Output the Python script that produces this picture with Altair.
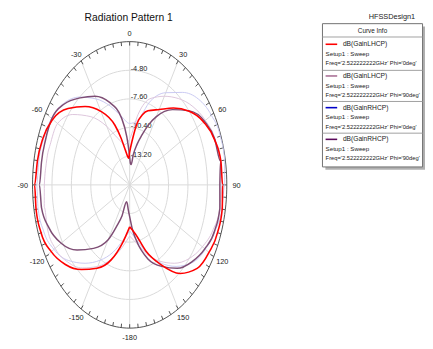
import altair as alt
import pandas as pd

# ---------------- data ----------------
series_names = [
    "dB(GainLHCP) Phi='0deg'",
    "dB(GainLHCP) Phi='90deg'",
    "dB(GainRHCP) Phi='0deg'",
    "dB(GainRHCP) Phi='90deg'",
]

theta_lhcp0 = [-180, -170, -160, -150, -140, -130, -120, -110, -100, -90, -80, -70, -60, -50,
               -40, -30, -20, -15, -10, -5, -3, 0, 5, 10, 15, 20, 30, 40, 50, 60, 70, 80, 90,
               100, 110, 120, 130, 140, 150, 160, 170, 180]
gain_lhcp0 = [-11.9, -10.3, -8.2, -6.6, -5.2, -3.9, -2.95, -2.4, -2.3, -2.3, -2.5, -2.7, -3.2, -4.4,
              -6.0, -7.7, -9.8, -11.3, -12.6, -13.3, -13.4, -12.8, -11.6, -9.9, -8.9, -8.3, -7.5, -6.2,
              -4.8, -3.7, -3.0, -2.65, -2.6, -2.45, -2.5, -2.8, -3.3, -4.7, -7.0, -9.1, -11.1, -11.9]

theta_lhcp90 = [-180, -175, -170, -165, -160, -155, -150, -140, -130, -120, -110, -100, -90, -80,
                -70, -60, -50, -40, -30, -20, -10, -5, -2, 0, 3, 6, 10, 15, 20, 25, 30, 40, 50, 60,
                70, 80, 90, 100, 110, 120, 130, 140, 150, 160, 170, 175, 180]
gain_lhcp90 = [-12.9, -13.6, -14.1, -14.3, -12.8, -11.5, -9.8, -7.9, -6.1, -4.6, -3.65, -3.1, -3.0, -3.1,
               -3.1, -3.05, -3.7, -4.9, -6.0, -7.4, -9.4, -11.3, -12.6, -13.3, -13.9, -14.0, -13.0,
               -11.9, -10.8, -9.5, -8.3, -6.4, -4.75, -3.55, -2.95, -2.7, -3.0, -2.8, -2.95, -3.5,
               -4.3, -5.35, -6.8, -8.3, -10.5, -11.7, -12.9]

theta_rhcp0 = [-180, -170, -160, -150, -140, -130, -120, -110, -100, -90, -80, -70, -60, -50, -40,
               -30, -20, -10, 0, 10, 20, 30, 40, 50, 60, 70, 80, 90, 100, 110, 120, 130, 140, 150,
               160, 170, 180]
gain_rhcp0 = [-11.5, -10.5, -9.0, -7.5, -6.0, -4.5, -3.4, -2.8, -2.6, -2.6, -2.7, -2.8, -3.0, -3.6,
              -4.8, -6.3, -7.8, -9.2, -10.0, -9.6, -7.3, -5.6, -4.2, -3.0, -2.4, -2.1, -2.1, -2.3,
              -2.5, -2.9, -3.4, -4.2, -5.6, -7.2, -9.0, -10.6, -11.5]

theta_rhcp90 = theta_rhcp0
gain_rhcp90 = [-11.0, -9.8, -8.3, -6.8, -5.4, -4.3, -3.6, -3.4, -3.5, -3.7, -3.8, -3.9, -4.0, -5.3,
               -7.3, -9.4, -11.2, -12.0, -11.5, -9.0, -7.0, -6.0, -5.0, -4.1, -3.4, -2.9, -2.7, -2.7,
               -2.8, -3.2, -3.9, -4.8, -6.0, -7.4, -8.8, -10.2, -11.0]

ring_values = [-13.20, -10.40, -7.60, -4.80]
angle_labels = [0, 30, 60, 90, 120, 150, -180, -150, -120, -90, -60, -30]
r_min, r_max = -16.0, -2.0

legend_lines = [
    ("dB(GainLHCP)", "Setup1 : Sweep", "Freq='2.522222222GHz' Phi='0deg'"),
    ("dB(GainLHCP)", "Setup1 : Sweep", "Freq='2.522222222GHz' Phi='90deg'"),
    ("dB(GainRHCP)", "Setup1 : Sweep", "Freq='2.522222222GHz' Phi='0deg'"),
    ("dB(GainRHCP)", "Setup1 : Sweep", "Freq='2.522222222GHz' Phi='90deg'"),
]
# plot colours (the RHCP traces appear very faint in the reference)
line_colors = ["#ff0000", "#7e4d74", "#c9c9f2", "#ddc6dc"]
line_width = [1.6, 1.5, 1.0, 1.0]
legend_colors = ["#ff0000", "#a86f95", "#0000c8", "#5a0a5a"]

# ---------------- geometry ----------------
W, H = 425, 341
CX, CY, RX, RY = 124, 177, 99, 146
FONT = "Liberation Sans, Arial, sans-serif"
xs = alt.Scale(domain=[0, W], nice=False, zero=False)
ys = alt.Scale(domain=[0, H], nice=False, zero=False, reverse=True)
X = alt.X("px:Q", scale=xs, axis=None)
Y = alt.Y("py:Q", scale=ys, axis=None)

span = r_max - r_min


def polar(ch):
    return ch.transform_calculate(
        px=f"{CX} + {RX}*datum.frac*sin(datum.theta*PI/180)",
        py=f"{CY} - {RY}*datum.frac*cos(datum.theta*PI/180)",
    )


# grid rings
ring_rows = []
for rv in ring_values:
    for j, a in enumerate(range(0, 361, 3)):
        ring_rows.append({"ring": rv, "theta": a, "j": j})
rings = polar(
    alt.Chart(pd.DataFrame(ring_rows)).transform_calculate(frac=f"(datum.ring - ({r_min})) / {span}")
).mark_line(color="#d9d9d9", strokeWidth=1).encode(x=X, y=Y, detail="ring:N", order="j:Q")

outer_df = pd.DataFrame({"theta": list(range(0, 361, 2)), "j": list(range(0, 181))})
outer = polar(alt.Chart(outer_df).transform_calculate(frac="1")).mark_line(
    color="#505050", strokeWidth=1).encode(x=X, y=Y, order="j:Q")

spoke_df = pd.DataFrame({"theta": list(range(-150, 181, 30))})
spokes = alt.Chart(spoke_df).transform_calculate(
    px=f"{CX} + {RX}*sin(datum.theta*PI/180)",
    py=f"{CY} - {RY}*cos(datum.theta*PI/180)",
    cx0=f"{CX}", cy0=f"{CY}",
).mark_rule(color="#d9d9d9", strokeWidth=1).encode(
    x=alt.X("cx0:Q", scale=xs, axis=None), y=alt.Y("cy0:Q", scale=ys, axis=None),
    x2="px:Q", y2="py:Q")

tick_df = pd.DataFrame({"theta": list(range(-175, 181, 5))})
ticks = alt.Chart(tick_df).transform_calculate(
    px=f"{CX} + {RX}*sin(datum.theta*PI/180)",
    py=f"{CY} - {RY}*cos(datum.theta*PI/180)",
    qx=f"{CX} + ({RX}-4)*sin(datum.theta*PI/180)",
    qy=f"{CY} - ({RY}-4)*cos(datum.theta*PI/180)",
).mark_rule(color="#505050", strokeWidth=1).encode(x=X, y=Y, x2="qx:Q", y2="qy:Q")

alab_df = pd.DataFrame({"theta": angle_labels, "label": [str(a) for a in angle_labels]})
alabels = alt.Chart(alab_df).transform_calculate(
    px=f"{CX} + ({RX}+10)*sin(datum.theta*PI/180)",
    py=f"{CY} + 1.5 - ({RY}+9)*cos(datum.theta*PI/180)",
).mark_text(font=FONT, fontSize=7.5, color="#222222", align="center", baseline="middle").encode(
    x=X, y=Y, text="label:N")

rlab_df = pd.DataFrame({"ring": ring_values, "label": [f"{v:.2f}" for v in ring_values]})
rlabels = alt.Chart(rlab_df).transform_calculate(
    px=f"{CX} + 1",
    py=f"{CY} - {RY}*(datum.ring - ({r_min}))/{span} - 1.5",
).mark_text(font=FONT, fontSize=7.5, color="#222222", align="left", baseline="middle").encode(
    x=X, y=Y, text="label:N")

curve_layers = []
data_sets = [(theta_lhcp0, gain_lhcp0), (theta_lhcp90, gain_lhcp90),
             (theta_rhcp0, gain_rhcp0), (theta_rhcp90, gain_rhcp90)]
for k in [2, 3, 1, 0]:
    th, g = data_sets[k]
    df = pd.DataFrame({"theta": th, "db": g, "i": list(range(len(th)))})
    curve_layers.append(
        polar(alt.Chart(df).transform_calculate(frac=f"max(0, (datum.db - ({r_min})) / {span})"))
        .mark_line(color=line_colors[k], strokeWidth=line_width[k], interpolate="monotone")
        .encode(x=X, y=Y, order="i:Q")
    )

one = alt.Data(values=[{"a": 1}])


def txt(x, y, s, size=6.3, align="left", color="#222222"):
    return alt.Chart(one).mark_text(font=FONT, fontSize=size, align=align, baseline="middle",
                                    color=color).encode(
        x=alt.value(x), y=alt.value(y), text=alt.value(s))


def rule(x1, x2, y, color, width=1):
    return alt.Chart(one).mark_rule(color=color, strokeWidth=width).encode(
        x=alt.value(x1), x2=alt.value(x2), y=alt.value(y))


title = txt(123, 6.5, "Radiation Pattern 1", size=10.5, align="center", color="#111111")

legend_layers = [
    txt(415, 5.5, "HFSSDesign1", size=7.5, align="right"),
    alt.Chart(one).mark_rect(color="#b0b0b0").encode(
        x=alt.value(323.5), x2=alt.value(425.5), y=alt.value(15.7), y2=alt.value(161.7)),
    alt.Chart(one).mark_rect(fill="white", stroke="#707070", strokeWidth=1).encode(
        x=alt.value(320.5), x2=alt.value(422.5), y=alt.value(12.7), y2=alt.value(158.7)),
    txt(371.5, 20.3, "Curve Info", size=6.5, align="center"),
]
for y in [26.3, 60.3, 92.0, 124.3]:
    legend_layers.append(rule(320.5, 422.5, y, "#a0a0a0"))
for k, (l1, l2, l3) in enumerate(legend_lines):
    y0 = 33.7 + 32.3 * k
    legend_layers.append(rule(323.7, 335.5, y0, legend_colors[k], 1.6))
    legend_layers.append(txt(341.3, y0, l1, size=6.8))
    legend_layers.append(txt(323.7, y0 + 9.8, l2, size=6.3))
    legend_layers.append(txt(323.7, y0 + 19.3, l3, size=5.9))

chart = alt.layer(
    rings, spokes, outer, ticks, rlabels, alabels, *curve_layers, title, *legend_layers
).properties(
    width=W, height=H, padding=0, autosize=alt.AutoSizeParams(type="none")
).configure_view(stroke=None)

chart.save("out.html", embed_options={"renderer": "svg", "actions": False})
